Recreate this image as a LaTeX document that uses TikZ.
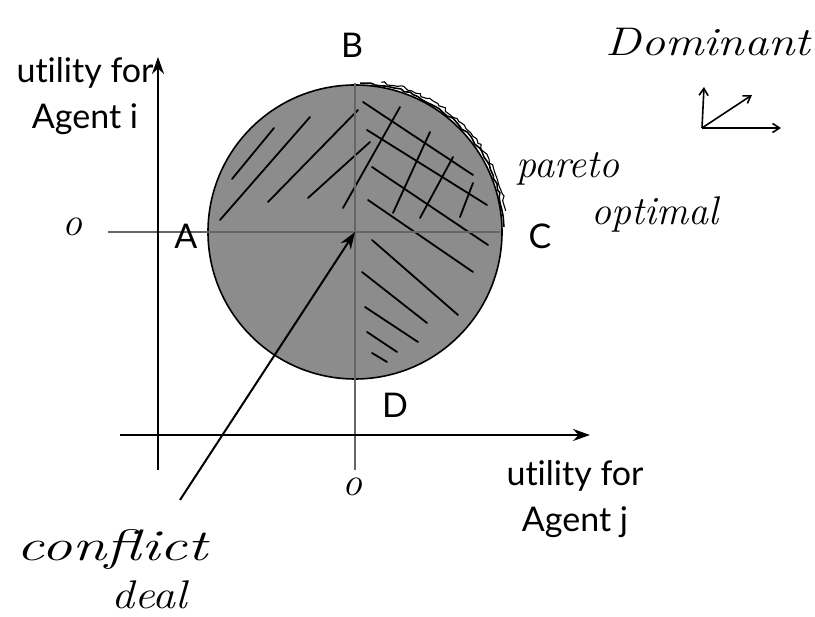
\documentclass[tikz,border=0pt]{standalone}
\usepackage{fontspec}
\newfontfamily\gill[Ligatures=NoCommon]{Lato}
\usetikzlibrary{arrows.meta,decorations.pathmorphing}

\begin{document}
\begin{tikzpicture}[x=1pt,y=1pt,>={Stealth[length=17pt,width=12pt]},
  axis/.style={line width=2.2pt,->},
  guide/.style={line width=1.1pt,black!60},
  hatch/.style={line width=1.8pt,line cap=round},
  lbl/.style={font=\gill\fontsize{34}{46}\selectfont},
  hand/.style={font=\itshape\fontsize{40}{44}\selectfont,inner sep=0pt},
  tiny/.style={line width=1.6pt,-{Straight Barb[length=7pt,width=9pt]}}]
  \useasboundingbox (0,0) rectangle (815,617);
  \coordinate (ctr) at (355,385);
  % set of deals
  \filldraw[fill=black!45,draw=black,line width=1.6pt] (ctr) circle[radius=147];
  % hatching
  \foreach \xa/\ya/\xb/\yb in {232/438/274/489, 220/397/310/500, 268/415/358/507,
      308/419/370/475, 343/409/400/510, 393/404/430/485, 420/399/453/460, 460/400/473/434}
    \draw[hatch] (\xa,\ya) -- (\xb,\yb);
  \foreach \xa/\ya/\xb/\yb in {363/515/473/442, 367/487/487/412, 372/450/488/372,
      368/417/473/345, 372/377/458/302, 362/345/427/294, 365/310/418/275,
      367/285/397/265, 372/264/387/255}
    \draw[hatch] (\xa,\ya) -- (\xb,\yb);
  % pareto frontier
  \draw[line width=1.6pt,decorate,decoration={random steps,segment length=5pt,amplitude=1.3pt}]
    ([shift={(88:149)}]ctr) arc[start angle=88,end angle=2,radius=149];
  \draw[line width=1.1pt,decorate,decoration={random steps,segment length=4pt,amplitude=1.6pt}]
    ([shift={(80:152)}]ctr) arc[start angle=80,end angle=8,radius=152];
  % guides through the conflict deal
  \coordinate (gl) at (108,385);
  \coordinate (gr) at (500,385);
  \coordinate (gb) at (355,147);
  \coordinate (gt) at (355,534);
  \draw[guide] (gl) -- (gr);
  \draw[guide] (gb) -- (gt);
  % axes
  \coordinate (ib) at (158,147);
  \coordinate (it) at (158,560);
  \coordinate (jl) at (120,182);
  \coordinate (jr) at (590,182);
  \draw[axis] (ib) -- (it);
  \draw[axis] (jl) -- (jr);
  % labels
  \node[lbl,align=center] (ui) at (85,521) {utility for\\Agent i};
  \node[lbl,align=center] (uj) at (575,118) {utility for\\Agent j};
  \node[lbl] (B) at (352,572) {B};
  \node[lbl] (A) at (186,381) {A};
  \node[lbl] (C) at (540,381) {C};
  \node[lbl] (D) at (395,212) {D};
  \node[hand] (oi) at (72,390) {o};
  \node[hand] (oj) at (352,130) {o};
  % handwritten notes
  \node[hand,xscale=1.2] (dom) at (708,575) {Dominant};
  \node[hand] (par) at (568,448) {pareto};
  \node[hand] (opt) at (655,402) {optimal};
  \node[hand,font=\itshape\fontsize{44}{48}\selectfont,xscale=1.4] (cfl) at (112,67) {conflict};
  \node[hand,xscale=1.15] (deal) at (149,22) {deal};
  % dominance directions
  \coordinate (d0) at (702,489);
  \coordinate (du) at (704,530);
  \coordinate (dd) at (752,522);
  \coordinate (dr) at (781,489);
  \draw[tiny] (d0) -- (du);
  \draw[tiny] (d0) -- (dd);
  \draw[tiny] (d0) -- (dr);
  % conflict deal arrow
  \coordinate (cs) at (180,117);
  \draw[line width=2pt,->] (cs) -- (ctr);
\end{tikzpicture}
\end{document}
